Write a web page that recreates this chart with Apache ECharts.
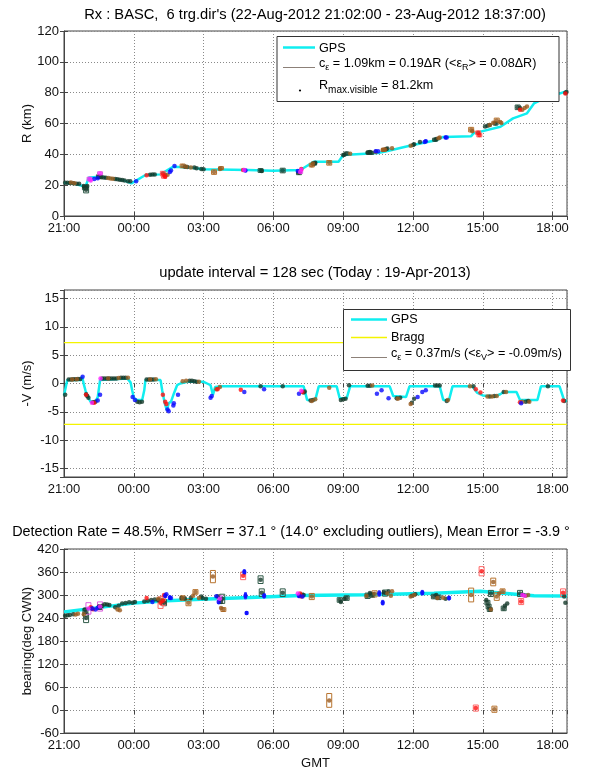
<!DOCTYPE html>
<html>
<head>
<meta charset="utf-8">
<script src="https://cdn.jsdelivr.net/npm/echarts@6/dist/echarts.min.js"></script>
<style>
  html, body { margin: 0; padding: 0; background: #fff; }
  #chart { width: 600px; height: 771px; }
</style>
</head>
<body>
<div id="chart"></div>
<script>
// Time is expressed in hours since 21:00 GMT (22-Aug-2012)
const T_MIN = 0;
const T_MAX = 21.62;           // 18:37 next day
const timeLabels = ['21:00', '00:00', '03:00', '06:00', '09:00', '12:00', '15:00', '18:00'];

// ---------- Panel 1: range (km) ----------
const gpsRange = [[0,21.5],[0.5,20.8],[0.92,19],[1.07,25],[1.6,25.5],[2.2,24],[2.6,23],[2.9,21.2],[3.5,26.6],[4.15,27],[4.7,32],[5.4,31.5],[6,30.3],[7.9,29.8],[9,29.4],[10.16,29.8],[10.73,35.2],[11.8,35.2],[12.0,39.6],[13.5,40.8],[14.0,42.5],[14.9,45.7],[16.04,49.3],[16.3,51.3],[17.5,51.8],[17.6,53.6],[18.76,57.9],[19.3,63.3],[19.9,66.6],[20.2,73],[20.6,76],[21.1,78.5],[21.62,81]];
// detections: [t, value, half box height]
const rangeGreen = [[0.05,21.5,0],[0.15,21.6,0],[0.25,21.4,0],[0.4,21.3,0],[0.55,21.0,0],[0.65,21.0,0],[0.85,19.5,0],[0.9,18.5,1.5],[0.95,17,2],[1.0,19.5,0],[1.5,25.5,1.2],[1.6,25.2,0],[1.7,25,0],[1.8,24.8,0],[2.2,24,0],[2.3,23.8,0],[2.4,23.5,0],[2.5,23.3,0],[2.6,23,0],[2.75,22.6,0],[2.85,22.5,0],[3.7,26.8,0],[3.8,27,0],[3.9,26.9,0],[5.2,32.0,0],[5.3,31.8,0],[5.6,31.5,0],[5.7,31,0],[5.9,30.5,0],[6.0,30.3,0],[8.45,29.5,1.2],[8.5,29.2,0],[9.4,29.5,1.5],[10.1,28,1.2],[10.75,34,1],[10.8,34.5,0],[12.0,39.5,0],[12.05,39.8,0],[12.15,40.5,1],[13.05,41,0],[13.1,41.2,1],[13.15,41.5,0],[13.2,41,1],[13.85,43.5,0],[13.9,43.8,0],[15.0,46,0],[15.05,46.5,0],[15.3,48,0],[15.95,49.5,1],[16.0,50,0],[18.1,58,0],[18.2,58.5,0],[18.3,59,0],[18.55,60,1],[19.5,70.5,1.5],[19.6,70,0],[21.55,80,0],[21.6,80.5,0]];
const rangeBrown = [[0.3,21.8,0],[0.45,21.2,0],[1.9,24.6,0],[2.0,24.4,0],[2.1,24.2,0],[4.35,26.5,0],[4.45,26.7,0],[5.1,32.5,1.2],[5.25,32,0],[5.45,31.5,0],[6.45,28.5,1.5],[6.7,30.5,0],[6.75,31,1],[10.65,33,1.2],[10.7,34,0],[11.4,34.5,1.5],[12.3,40.3,0],[13.4,41.5,0],[13.7,42.8,0],[13.75,43,1],[13.8,43.2,0],[14.1,44,0],[14.9,45.5,0],[16.1,50.5,0],[16.15,51,0],[17.5,56,1.5],[17.55,55,0],[18.3,59,0],[18.45,60.5,0],[18.6,62,1.5],[18.75,61,0],[18.8,60.3,0],[19.7,69,0],[19.8,70,0],[19.9,71,0]];
const rangeRed = [[3.55,26.5,0],[4.25,27.5,1.5],[4.3,26,1.5],[4.35,25.5,0],[7.7,29.8,0],[10.2,30.5,0],[17.8,54,1.2],[17.85,52.5,1.2],[19.6,69,0],[21.55,79.5,0]];
const rangeBlue = [[1.3,24,0],[1.45,24.5,0],[3.1,22.5,0],[4.55,28.5,0],[4.6,29.5,0],[4.75,32.5,0],[7.8,29.5,0.8],[10.05,29.2,0],[13.4,42,0.8],[13.5,42,0],[15.5,48,0],[15.55,48.5,0.8],[16.4,51,0.8],[16.45,51,0]];
const rangeMagenta = [[1.1,24,1.2],[1.15,23,0],[1.55,27.5,1.2],[7.75,29.8,0],[10.15,28.5,1],[10.2,30,0]];

// ---------- Panel 2: radial velocity (m/s) ----------
const braggSpeed = 7.2;
const gpsVel = [[0.0,-2.1],[0.14,0.6],[0.71,0.6],[0.78,1.2],[0.85,-0.1],[0.92,-1.2],[1.0,-2.2],[1.14,-3.2],[1.35,-3.2],[1.45,-2.4],[1.55,0.6],[1.6,0.9],[2.72,0.9],[2.79,1.2],[2.86,0.2],[2.93,-1.2],[3.0,-2.5],[3.12,-2.9],[3.36,-2.9],[3.45,-1.2],[3.5,0.6],[4.15,0.6],[4.22,-1.2],[4.33,-3.5],[4.42,-4.7],[4.5,-3.5],[4.6,-3.2],[4.72,-1.8],[4.86,-0.3],[5.0,0.0],[5.3,0.3],[6.0,0.3],[6.15,0.0],[6.3,-0.3],[6.4,-2.0],[6.5,-0.6],[6.8,-0.5],[10.3,-0.5],[10.45,-2.9],[10.8,-2.9],[10.95,-0.5],[11.72,-0.5],[11.85,-2.6],[12.15,-2.6],[12.3,-0.5],[14.0,-0.5],[14.15,-2.2],[14.7,-2.4],[14.85,-0.5],[16.15,-0.5],[16.3,-2.9],[16.55,-2.9],[16.7,-0.5],[17.55,-0.5],[17.75,-1.6],[18.0,-2.1],[18.5,-2.3],[18.75,-1.9],[18.9,-1.5],[19.45,-1.5],[19.6,-2.9],[20.35,-2.9],[20.5,-0.5],[21.3,-0.5],[21.5,-3.0],[21.62,-3.1]];
const velGreen = [[0.05,-2,0],[0.2,0.7,0],[0.3,0.7,0],[0.4,0.75,0],[0.5,0.75,0],[0.6,0.8,0],[0.7,0.8,0],[0.95,-1.9,0],[1.0,-2.2,0],[1.05,-2.5,0],[1.25,-3.3,0],[1.35,-3.2,0],[1.65,0.9,0],[1.75,0.9,0],[1.85,0.9,0],[1.95,0.9,0],[2.05,0.9,0],[2.15,0.9,0],[2.25,0.9,0],[2.45,1.0,0],[2.55,1.0,0],[2.65,1.0,0],[3.15,-3.2,0],[3.25,-3.3,0],[3.35,-3.2,0],[3.55,0.7,0],[3.65,0.7,0],[3.75,0.7,0],[3.85,0.7,0],[5.4,0.5,0],[5.5,0.5,0],[5.6,0.4,0],[5.7,0.3,0],[8.45,-0.5,0],[9.4,-0.5,0],[10.3,-1.6,0],[10.35,-1.4,0],[10.6,-3.0,0],[10.7,-2.9,0],[11.9,-2.9,0],[12.0,-2.8,0],[12.1,-2.7,0],[12.25,-0.3,0],[13.05,-0.4,0],[13.15,-0.4,0],[14.3,-2.6,0],[14.45,-2.5,0],[14.95,-3.4,0],[15.05,-2.7,0],[15.95,-0.35,0],[16.05,-0.35,0],[16.15,-0.35,0],[16.45,-3.1,0],[17.6,-0.5,0],[18.3,-2.3,0],[18.5,-2.2,0],[18.9,-1.5,0],[19.85,-3.2,0],[19.95,-3.1,0],[20.8,-0.5,0],[21.5,-3.1,0]];
const velBrown = [[0.35,0.7,0],[0.55,0.75,0],[1.9,0.9,0],[2.35,0.95,0],[2.75,1.0,0],[3.7,0.7,0],[3.95,0.75,0],[5.1,0.4,0],[5.25,0.5,0],[5.8,0.3,0],[6.55,-1.0,0],[6.7,-0.6,0],[10.65,-3.1,0],[10.8,-2.8,0],[11.4,-0.75,0],[13.25,-0.35,0],[14.35,-2.7,0],[14.9,-3.6,0],[16.5,-2.9,0],[17.45,-0.5,0],[18.2,-2.3,0],[18.4,-2.3,0],[18.6,-2.2,0],[19.0,-1.5,0],[19.7,-3.2,0],[20.0,-3.2,0]];
const velRed = [[0.95,-2.0,0],[1.3,-3.4,0],[4.25,-2.0,0],[4.35,-3.2,0],[4.4,-3.6,0],[6.6,-1.0,0],[7.6,-1.1,0],[10.25,-1.5,0],[17.7,-1.0,0],[17.9,-1.6,0],[19.6,-3.3,0],[21.45,-3.0,0]];
const velBlue = [[0.8,1.2,0],[1.45,-3.0,0],[1.55,-2.0,0],[2.95,-2.4,0],[3.05,-2.9,0],[4.45,-4.6,0],[4.5,-4.9,0],[4.7,-3.9,0],[4.72,-3.5,0],[4.9,-2.0,0],[6.3,-2.5,0],[6.35,-2.2,0],[7.75,-1.5,0],[8.6,-1.0,0],[10.1,-1.8,0],[13.45,-1.8,0],[13.65,-1.2,0],[13.95,-2.6,0],[15.2,-2.4,0],[15.4,-1.5,0],[15.55,-1.2,0],[19.65,-3.5,0]];
const velMagenta = [[1.2,-3.4,0],[1.57,0.9,0],[10.2,-1.3,0]];

// ---------- Panel 3: bearing (deg CWN) ----------
const gpsBearing = [[0,256],[1.57,267.7],[3.0,278.8],[4.43,284.8],[5.87,289.1],[8.0,293.4],[10.16,298.5],[13.0,300.5],[15.9,304.5],[17.9,310],[18.76,305],[20.2,298],[21.62,297.5]];
const brgGreen = [[0.05,246,0],[0.15,247,0],[0.25,248,0],[0.4,250,0],[0.9,262,0],[0.92,255,10],[0.95,240,12],[1.5,270,0],[1.55,268,6],[1.65,272,0],[1.75,276,0],[1.85,275,0],[1.95,274,0],[2.2,268,0],[2.35,272,0],[2.5,278,0],[2.65,279,0],[2.8,281,0],[2.95,280,0],[3.05,282,0],[3.45,283,0],[3.6,285,0],[3.75,287,0],[3.9,288,0],[4.05,286,0],[4.3,280,8],[5.05,292,0],[5.2,291,0],[5.45,292,0],[5.9,296,0],[5.95,292,0],[6.1,290,0],[6.6,297,0],[6.75,282,0],[6.8,290,12],[8.45,340,10],[8.5,306,10],[9.4,306,10],[10.2,300,5],[10.3,300,0],[11.85,287,6],[11.9,282,0],[12.05,290,0],[12.15,292,6],[13.05,298,7],[13.15,305,0],[13.25,300,6],[13.75,307,0],[13.8,305,8],[13.95,310,0],[14.95,298,0],[15.1,302,0],[15.9,296,6],[16.0,300,0],[16.1,294,6],[16.4,290,0],[18.15,287,0],[18.2,280,6],[18.25,270,6],[18.3,262,5],[18.35,304,8],[18.9,265,6],[18.95,272,0],[19.05,278,0],[19.6,304,8],[19.75,300,0],[21.5,296,0],[21.55,280,0]];
const brgBrown = [[0.5,249,0],[0.6,251,0],[0.85,250,0],[2.3,262,0],[2.4,260,0],[4.05,290,0],[4.2,285,6],[5.1,292,6],[5.35,280,8],[5.55,298,0],[5.65,308,6],[5.8,292,0],[6.4,348,16],[6.75,266,0],[6.85,262,5],[10.65,296,8],[11.4,25,18],[13.0,298,0],[13.35,303,8],[13.9,304,0],[14.05,298,0],[14.1,310,0],[14.9,296,0],[15.05,300,0],[16.05,292,0],[16.3,293,0],[17.5,300,18],[18.35,262,0],[18.45,334,10],[18.5,2,8],[18.6,296,10],[18.7,304,0],[18.85,310,6],[19.85,298,0],[19.95,300,0]];
const brgRed = [[1.15,268,0],[1.25,263,0],[3.55,292,0],[4.15,280,15],[4.25,285,12],[4.3,300,0],[7.7,350,10],[10.15,304,0],[10.2,296,0],[17.7,5,8],[17.95,362,12],[19.65,283,8],[21.45,306,10]];
const brgBlue = [[1.2,265,5],[1.35,262,0],[1.45,267,0],[3.8,282,0],[4.35,298,5],[4.4,302,0],[4.55,293,5],[4.6,292,0],[6.55,297,0],[6.65,282,5],[7.75,360,6],[7.8,298,8],[7.85,253,4],[8.6,298,6],[10.1,298,5],[10.25,296,0],[13.55,304,7],[13.7,280,6],[15.4,306,6],[16.55,292,5]];
const brgMagenta = [[1.05,265,15],[1.55,270,12],[6.7,290,8],[10.05,304,0],[19.7,300,0],[19.8,298,0]];

const FONT = "'Liberation Sans', Arial, Helvetica, sans-serif";
const CYAN = '#10eef0';
const COLORS = {
  green:   { dot: '#153a2a', box: '#2f5a48' },
  brown:   { dot: '#9a5a1e', box: '#b8742f' },
  red:     { dot: '#ff1010', box: '#ff6666' },
  blue:    { dot: '#0a0aff', box: '#2a2aff' },
  magenta: { dot: '#ff20ff', box: '#e060e0' }
};

const gridBox = { left: 64, right: 33, show: true, borderColor: '#444', borderWidth: 1, backgroundColor: '#fff' };
const grids = [
  Object.assign({ top: 31, height: 185 }, gridBox),
  Object.assign({ top: 290, height: 187 }, gridBox),
  Object.assign({ top: 549, height: 187 }, gridBox)
];

const axisText = { color: '#111', fontSize: 13, fontFamily: FONT };
const dotted = { show: true, lineStyle: { color: '#8a8a8a', type: [1, 2], width: 1 } };
const tickStyle = { inside: true, length: 4, lineStyle: { color: '#444' } };

function xAxisFor(i) {
  return {
    type: 'value', gridIndex: i, min: T_MIN, max: T_MAX, interval: 3,
    axisLine: { show: true, onZero: false, lineStyle: { color: '#444' } },
    axisTick: tickStyle,
    axisLabel: Object.assign({ margin: 6, showMaxLabel: false,
      formatter: v => (Math.abs(v / 3 - Math.round(v / 3)) < 1e-6 ? (timeLabels[Math.round(v / 3)] || '') : '') }, axisText),
    splitLine: dotted,
    name: i === 2 ? 'GMT' : '', nameLocation: 'middle', nameGap: 24, nameMoveOverlap: false,
    nameTextStyle: axisText
  };
}
// mirrored tick marks along the top edge of each box
function xTopFor(i) {
  return { type: 'value', gridIndex: i, position: 'top', min: T_MIN, max: T_MAX, interval: 3,
    axisLine: { show: false }, axisTick: tickStyle, axisLabel: { show: false }, splitLine: { show: false } };
}
function yAxisFor(i, opts) {
  return Object.assign({
    type: 'value', gridIndex: i,
    axisLine: { show: true, onZero: false, lineStyle: { color: '#444' } },
    axisTick: tickStyle,
    axisLabel: Object.assign({ margin: 5 }, axisText),
    splitLine: dotted,
    nameLocation: 'middle', nameGap: 30, nameMoveOverlap: false, nameTextStyle: axisText
  }, opts);
}
function yRightFor(i, opts) {
  return Object.assign({ type: 'value', gridIndex: i, position: 'right',
    axisLine: { show: false }, axisTick: tickStyle, axisLabel: { show: false }, splitLine: { show: false } }, opts);
}

function gpsLine(i, data, width, name) {
  return { name: name, type: 'line', xAxisIndex: i, yAxisIndex: i, data: data, symbol: 'none',
    lineStyle: { color: CYAN, width: width }, itemStyle: { color: CYAN }, z: 2, silent: true };
}

function detections(i, pts, colorKey) {
  const c = COLORS[colorKey];
  const out = [{
    type: 'scatter', xAxisIndex: i, yAxisIndex: i, data: pts.map(p => [p[0], p[1]]),
    symbol: 'circle', symbolSize: 4.5, itemStyle: { color: c.dot }, z: 4, silent: true
  }];
  const boxed = pts.filter(p => p[2] > 0);
  if (boxed.length) {
    out.push({
      type: 'custom', xAxisIndex: i, yAxisIndex: i, data: boxed, silent: true, z: 3,
      encode: { x: 0, y: 1 },
      renderItem: (params, api) => {
        const t = api.value(0), v = api.value(1), e = api.value(2);
        const hi = api.coord([t, v + e]);
        const lo = api.coord([t, v - e]);
        const w = colorKey === 'blue' ? 2 : 5;
        return {
          type: 'rect',
          shape: { x: hi[0] - w / 2, y: hi[1], width: w, height: lo[1] - hi[1] },
          style: colorKey === 'blue' ? { fill: c.box, stroke: c.box, lineWidth: 1 }
                                      : { fill: 'none', stroke: c.box, lineWidth: 1 }
        };
      }
    });
  }
  return out;
}

const series = [];
// panel 1
series.push(gpsLine(0, gpsRange, 2.5, 'GPS'));
[['green', rangeGreen], ['brown', rangeBrown], ['red', rangeRed], ['blue', rangeBlue], ['magenta', rangeMagenta]]
  .forEach(([k, d]) => series.push(...detections(0, d, k)));
// panel 2
series.push({ name: 'Bragg', type: 'line', xAxisIndex: 1, yAxisIndex: 1, symbol: 'none', silent: true, z: 1,
  data: [[T_MIN, braggSpeed], [T_MAX, braggSpeed]], lineStyle: { color: '#f4f400', width: 1.3 } });
series.push({ name: 'Bragg', type: 'line', xAxisIndex: 1, yAxisIndex: 1, symbol: 'none', silent: true, z: 1,
  data: [[T_MIN, -braggSpeed], [T_MAX, -braggSpeed]], lineStyle: { color: '#f4f400', width: 1.3 } });
series.push(gpsLine(1, gpsVel, 2.5, 'GPS'));
[['green', velGreen], ['brown', velBrown], ['red', velRed], ['blue', velBlue], ['magenta', velMagenta]]
  .forEach(([k, d]) => series.push(...detections(1, d, k)));
// panel 3
series.push(gpsLine(2, gpsBearing, 3.5, 'GPS'));
[['green', brgGreen], ['brown', brgBrown], ['red', brgRed], ['blue', brgBlue], ['magenta', brgMagenta]]
  .forEach(([k, d]) => series.push(...detections(2, d, k)));

// legend boxes
const legendRich = {
  sub: { fontSize: 9, fontFamily: FONT, fill: '#000', padding: [7, 0, 0, 0] },
  subL: { fontSize: 10, fontFamily: FONT, fill: '#000', padding: [8, 0, 0, 0] }
};
function legendText(x, y, text) {
  return { type: 'text', x: x, y: y, z: 101,
    style: { text: text, fontSize: 12.6, fontFamily: FONT, fill: '#000', verticalAlign: 'middle', align: 'left', rich: legendRich } };
}
function legendLine(x1, x2, y, color, width) {
  return { type: 'line', z: 101, shape: { x1: x1, y1: y, x2: x2, y2: y }, style: { stroke: color, lineWidth: width } };
}
const graphic = [
  { type: 'rect', z: 100, shape: { x: 277, y: 36.5, width: 282, height: 65 }, style: { fill: '#fff', stroke: '#333', lineWidth: 1 } },
  legendLine(283, 315, 47.5, CYAN, 2.5),
  legendText(319, 48.5, 'GPS'),
  legendLine(283, 315, 67.5, '#8c8078', 1),
  legendText(319, 64, 'c{sub|ε} = 1.09km = 0.19ΔR (<ε{sub|R}> = 0.08ΔR)'),
  { type: 'circle', z: 101, shape: { cx: 300, cy: 90.5, r: 1.1 }, style: { fill: '#000' } },
  legendText(319, 86, 'R{subL|max.visible} = 81.2km'),

  { type: 'rect', z: 100, shape: { x: 343.5, y: 309.5, width: 227, height: 61 }, style: { fill: '#fff', stroke: '#333', lineWidth: 1 } },
  legendLine(351, 387, 319.5, CYAN, 2.5),
  legendText(391, 319.5, 'GPS'),
  legendLine(351, 387, 337.5, '#f4f400', 1.3),
  legendText(391, 338, 'Bragg'),
  legendLine(351, 387, 357.5, '#8c8078', 1),
  legendText(391, 354, 'c{sub|ε} = 0.37m/s (<ε{sub|V}> = -0.09m/s)')
];

const titleStyle = { color: '#000', fontSize: 14.7, fontWeight: 'normal', fontFamily: FONT };
const option = {
  animation: false,
  backgroundColor: '#fff',
  title: [
    { text: "Rx : BASC,  6 trg.dir's (22-Aug-2012 21:02:00 - 23-Aug-2012 18:37:00)", left: 315, top: 7, padding: 0, textAlign: 'center', textStyle: titleStyle },
    { text: 'update interval = 128 sec (Today : 19-Apr-2013)', left: 315, top: 265, padding: 0, textAlign: 'center', textStyle: titleStyle },
    { text: 'Detection Rate = 48.5%, RMSerr = 37.1 ° (14.0° excluding outliers), Mean Error = -3.9 °', left: 291, top: 525, padding: 0, textAlign: 'center', textStyle: Object.assign({}, titleStyle, { fontSize: 14.4 }) }
  ],
  grid: grids,
  xAxis: [xAxisFor(0), xAxisFor(1), xAxisFor(2), xTopFor(0), xTopFor(1), xTopFor(2)],
  yAxis: [
    yAxisFor(0, { min: 0, max: 120, interval: 20, name: 'R (km)' }),
    yAxisFor(1, { min: -16.5, max: 16.5, name: '-V (m/s)',
      axisLabel: Object.assign({ margin: 5, showMinLabel: false, showMaxLabel: false }, axisText) }),
    yAxisFor(2, { min: -60, max: 420, interval: 60, name: 'bearing(deg CWN)' }),
    yRightFor(0, { min: 0, max: 120, interval: 20 }),
    yRightFor(1, { min: -16.5, max: 16.5 }),
    yRightFor(2, { min: -60, max: 420, interval: 60 })
  ],
  series: series,
  graphic: graphic
};

const chart = echarts.init(document.getElementById('chart'), null, { renderer: 'canvas' });
chart.setOption(option);
</script>
</body>
</html>
